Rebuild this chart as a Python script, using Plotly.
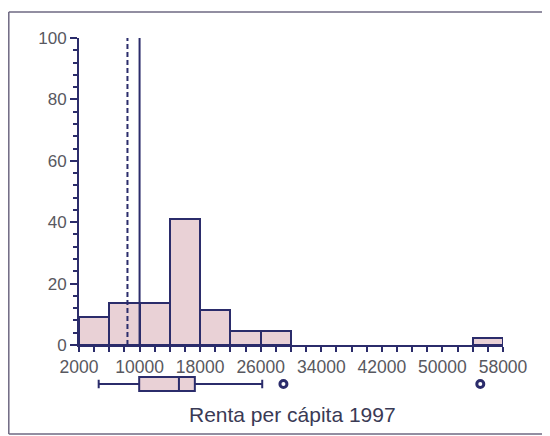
import plotly.graph_objects as go

# ---- data ----
bin_starts = [2000, 6000, 10000, 14000, 18000, 22000, 26000, 54000]
bin_width = 4000
percent = [9.1, 13.6, 13.6, 40.9, 11.4, 4.5, 4.5, 2.3]

ref_dashed = 8400
ref_solid = 10000

box_q1 = 9950
box_median = 15200
box_q3 = 17300
box_low = 4600
box_high = 26200
outliers = [29000, 55000]

x_ticks = [2000, 10000, 18000, 26000, 34000, 42000, 50000, 58000]
x_tick_text = ["2000", "10000", "18000", "26000", "34000", "42000", "50000", "58000"]
y_ticks = [0, 20, 40, 60, 80, 100]
y_tick_text = ["0", "20", "40", "60", "80", "100"]
x_title = "Renta per cápita 1997"

# ---- styling ----
OFF = 8  # page body margin
W, H = 550 - OFF, 436 - OFF
navy = "#2b2c6b"
fill = "#e9d1d6"
label_col = "#585860"
font_fam = "Liberation Sans, Arial, sans-serif"

def px_x(p):
    return (p - OFF) / W

def px_y(p):
    return 1 - (p - OFF) / H

centers = [s + bin_width / 2 for s in bin_starts]

fig = go.Figure()
fig.add_trace(go.Bar(
    x=centers, y=percent, width=[bin_width] * len(centers),
    marker=dict(color=fill, line=dict(color=navy, width=2)),
    xaxis="x", yaxis="y", showlegend=False, hoverinfo="skip"))

fig.add_trace(go.Scatter(
    x=[ref_dashed, ref_dashed], y=[0, 100], mode="lines",
    line=dict(color=navy, width=2, dash="5px,3px"),
    xaxis="x", yaxis="y", showlegend=False, hoverinfo="skip"))
fig.add_trace(go.Scatter(
    x=[ref_solid, ref_solid], y=[0, 100], mode="lines",
    line=dict(color=navy, width=2),
    xaxis="x", yaxis="y", showlegend=False, hoverinfo="skip"))

fig.add_trace(go.Box(
    y=[0], q1=[box_q1], median=[box_median], q3=[box_q3],
    lowerfence=[box_low], upperfence=[box_high],
    orientation="h", width=1, whiskerwidth=0.6,
    fillcolor=fill, line=dict(color=navy, width=2),
    boxpoints=False, xaxis="x", yaxis="y2", showlegend=False,
    hoverinfo="skip"))
fig.add_trace(go.Scatter(
    x=outliers, y=[0] * len(outliers), mode="markers",
    marker=dict(symbol="circle-open", size=7, color=navy,
                line=dict(color=navy, width=3)),
    xaxis="x", yaxis="y2", showlegend=False, hoverinfo="skip"))

fig.update_layout(
    template="none",
    width=W, height=H, autosize=False,
    margin=dict(l=0, r=0, t=0, b=0, pad=0),
    paper_bgcolor="white", plot_bgcolor="white",
    font=dict(family=font_fam, size=17, color=label_col),
    bargap=0,
    xaxis=dict(
        domain=[px_x(79), px_x(503)], range=[2000, 58000],
        anchor="y", showgrid=False, zeroline=False, automargin=False,
        showline=True, linecolor=navy, linewidth=2,
        tickmode="array", tickvals=x_ticks, ticktext=x_tick_text,
        ticks="outside", ticklen=5, tickwidth=2, tickcolor=navy,
        minor=dict(dtick=2000, tick0=2000, ticks="outside", ticklen=5,
                   tickwidth=2, tickcolor=navy, showgrid=False),
        tickfont=dict(size=17.5, color=label_col),
    ),
    yaxis=dict(
        domain=[px_y(345), px_y(38)], range=[0, 100],
        anchor="x", showgrid=False, zeroline=False, automargin=False,
        showline=True, linecolor=navy, linewidth=2,
        tickmode="array", tickvals=y_ticks, ticktext=y_tick_text,
        ticks="outside", ticklen=7, tickwidth=2, tickcolor=navy,
        minor=dict(dtick=4, tick0=0, ticks="outside", ticklen=4,
                   tickwidth=2, tickcolor=navy, showgrid=False),
        tickfont=dict(size=17, color=label_col),
    ),
    yaxis2=dict(
        domain=[px_y(398), px_y(370)], range=[-1, 1],
        anchor="free", position=0, visible=False, automargin=False,
        showgrid=False, zeroline=False,
    ),
    annotations=[dict(
        text=x_title, x=px_x(292), y=px_y(414), xref="paper", yref="paper",
        xanchor="center", yanchor="middle", showarrow=False,
        font=dict(size=21, color="#3a3a55", family=font_fam))],
    shapes=[
        dict(type="line", xref="paper", yref="paper",
             x0=px_x(8.8), x1=px_x(8.8), y0=px_y(12), y1=px_y(434),
             line=dict(color="#6e6882", width=1.5)),
        dict(type="line", xref="paper", yref="paper",
             x0=px_x(8.8), x1=1.0, y0=px_y(12), y1=px_y(12),
             line=dict(color="#6e6882", width=1.5)),
        dict(type="line", xref="paper", yref="paper",
             x0=px_x(8.8), x1=1.0, y0=px_y(434), y1=px_y(434),
             line=dict(color="#6e6882", width=1.5)),
    ],
)

fig.write_html("out.html", config={"displayModeBar": False})
